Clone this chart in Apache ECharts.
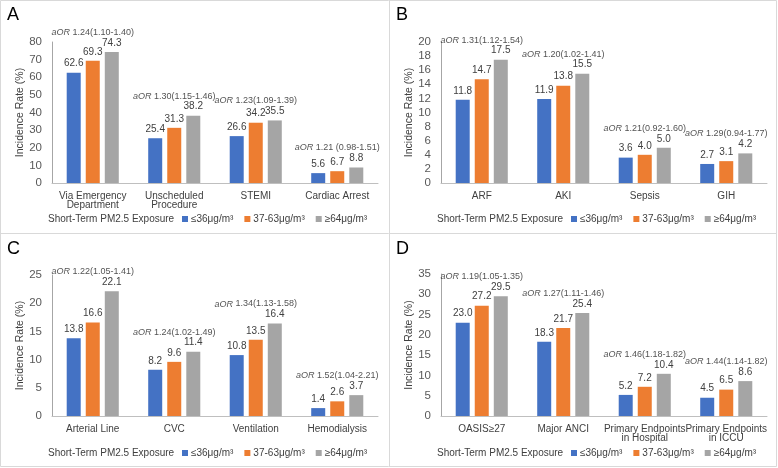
<!DOCTYPE html>
<html>
<head>
<meta charset="utf-8">
<script src="https://cdn.jsdelivr.net/npm/echarts@6/dist/echarts.min.js"></script>
<style>
  html, body { margin: 0; padding: 0; background: #fff; }
  #chart { width: 778px; height: 468px; }
</style>
</head>
<body>
<div id="chart"></div>
<script>
// series names (PM2.5 exposure groups)
const groups = ['≤36μg/m³', '37-63μg/m³', '≥64μg/m³']
const colors = ['#4472C4', '#ED7D31', '#A5A5A5']

// A
const catsA = ['Via Emergency\nDepartment', 'Unscheduled\nProcedure', 'STEMI', 'Cardiac Arrest']
const lowA = [62.6, 25.4, 26.6, 5.6]
const midA = [69.3, 31.3, 34.2, 6.7]
const highA = [74.3, 38.2, 35.5, 8.8]
const aorA = ['1.24(1.10-1.40)', '1.30(1.15-1.46)', '1.23(1.09-1.39)', '1.21 (0.98-1.51)']

// B
const catsB = ['ARF', 'AKI', 'Sepsis', 'GIH']
const lowB = [11.8, 11.9, 3.6, 2.7]
const midB = [14.7, 13.8, 4.0, 3.1]
const highB = [17.5, 15.5, 5.0, 4.2]
const aorB = ['1.31(1.12-1.54)', '1.20(1.02-1.41)', '1.21(0.92-1.60)', '1.29(0.94-1.77)']

// C
const catsC = ['Arterial Line', 'CVC', 'Ventilation', 'Hemodialysis']
const lowC = [13.8, 8.2, 10.8, 1.4]
const midC = [16.6, 9.6, 13.5, 2.6]
const highC = [22.1, 11.4, 16.4, 3.7]
const aorC = ['1.22(1.05-1.41)', '1.24(1.02-1.49)', '1.34(1.13-1.58)', '1.52(1.04-2.21)']

// D
const catsD = ['OASIS≥27', 'Major ANCI', 'Primary Endpoints\nin Hospital', 'Primary Endpoints\nin ICCU']
const lowD = [23.0, 18.3, 5.2, 4.5]
const midD = [27.2, 21.7, 7.2, 6.5]
const highD = [29.5, 25.4, 10.4, 8.6]
const aorD = ['1.19(1.05-1.35)', '1.27(1.11-1.46)', '1.46(1.18-1.82)', '1.44(1.14-1.82)']

// y axis ranges
const yMax = [80, 20, 25, 35]
const yStep = [10, 2, 5, 5]

const FONT = "'Liberation Sans', Arial, sans-serif"
const TXT = '#404040'

const panels = [
  { tag: 'A', x: 0, y: 0, top: 42, bottom: 183, cats: catsA, vals: [lowA, midA, highA], aor: aorA },
  { tag: 'B', x: 389, y: 0, top: 42, bottom: 183, cats: catsB, vals: [lowB, midB, highB], aor: aorB },
  { tag: 'C', x: 0, y: 234, top: 275, bottom: 416, cats: catsC, vals: [lowC, midC, highC], aor: aorC },
  { tag: 'D', x: 389, y: 234, top: 274, bottom: 416, cats: catsD, vals: [lowD, midD, highD], aor: aorD },
]

const grid = [], xAxis = [], yAxis = [], series = [], legend = [], graphic = []

panels.forEach((p, i) => {
  const left = p.x + 52
  grid.push({ left: left, width: 326, top: p.top, height: p.bottom - p.top })
  xAxis.push({
    type: 'category',
    gridIndex: i,
    data: p.cats,
    axisTick: { show: false },
    axisLine: { lineStyle: { color: '#bfbfbf', width: 1 } },
    axisLabel: { color: TXT, fontSize: 10, fontFamily: FONT, lineHeight: 9, margin: 9, interval: 0 },
  })
  yAxis.push({
    type: 'value',
    gridIndex: i,
    min: 0,
    max: yMax[i],
    interval: yStep[i],
    name: 'Incidence Rate (%)',
    nameLocation: 'middle',
    nameGap: 22,
    nameTextStyle: { color: TXT, fontSize: 10.5, fontFamily: FONT },
    axisLine: { show: true, lineStyle: { color: '#a6a6a6', width: 1 } },
    axisTick: { show: false },
    splitLine: { show: false },
    axisLabel: { color: '#595959', fontSize: 11.5, fontFamily: FONT, margin: 10 },
  })
  p.vals.forEach((v, k) => {
    series.push({
      name: groups[k],
      type: 'bar',
      xAxisIndex: i,
      yAxisIndex: i,
      data: v,
      barWidth: 14,
      barGap: '36%',
      itemStyle: { color: colors[k] },
      label: {
        show: true,
        position: 'top',
        distance: 4,
        color: TXT,
        fontSize: 10,
        fontFamily: FONT,
        formatter: (d) => d.value.toFixed(1),
      },
    })
  })
  // aOR annotation above the tallest bar of each group
  const peak = p.cats.map((c, j) => Math.max(p.vals[0][j], p.vals[1][j], p.vals[2][j]))
  series.push({
    type: 'scatter',
    xAxisIndex: i,
    yAxisIndex: i,
    symbolSize: 0,
    silent: true,
    data: peak,
    label: {
      show: true,
      position: 'top',
      distance: 15,
      color: '#262626',
      fontSize: 9,
      fontFamily: FONT,
      formatter: (d) => '{i|aOR} ' + p.aor[d.dataIndex],
      rich: { i: { fontStyle: 'italic', fontSize: 9, fontFamily: FONT, color: '#262626' } },
    },
  })
  legend.push({
    data: groups,
    left: p.x + 182,
    top: p.y + 214,
    padding: 0,
    icon: 'rect',
    itemWidth: 6,
    itemHeight: 6,
    itemGap: 11,
    selectedMode: false,
    textStyle: { color: TXT, fontSize: 10, fontFamily: FONT, padding: [0, 0, 0, -2] },
  })
  graphic.push({
    type: 'text',
    left: p.x + 7,
    top: p.y + 6,
    style: { text: p.tag, fontSize: 18, fontFamily: FONT, fill: '#000' },
  })
  graphic.push({
    type: 'text',
    left: p.x + 48,
    top: p.y + 214,
    style: { text: 'Short-Term PM2.5 Exposure', fontSize: 10, fontFamily: FONT, fill: TXT },
  })
})

// panel frame lines
const frame = { stroke: '#d9d9d9', lineWidth: 1 }
graphic.push({ type: 'rect', shape: { x: 0.5, y: 0.5, width: 776, height: 466 }, style: { fill: 'none', stroke: '#d9d9d9', lineWidth: 1 }, silent: true })
graphic.push({ type: 'line', shape: { x1: 389.5, y1: 0, x2: 389.5, y2: 467 }, style: frame, silent: true })
graphic.push({ type: 'line', shape: { x1: 0, y1: 233.5, x2: 777, y2: 233.5 }, style: frame, silent: true })

const myChart = echarts.init(document.getElementById('chart'))
const option = {
  backgroundColor: '#fff',
  animation: false,
  grid: grid,
  xAxis: xAxis,
  yAxis: yAxis,
  legend: legend,
  series: series,
  graphic: graphic,
}
myChart.setOption(option)
</script>
</body>
</html>
